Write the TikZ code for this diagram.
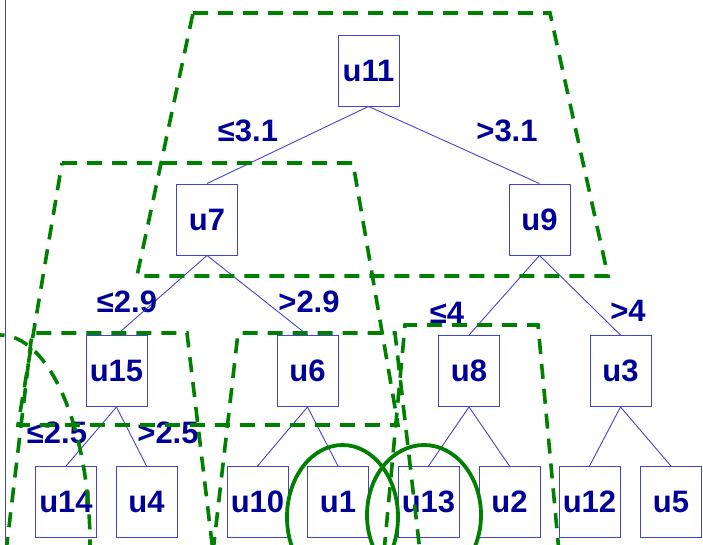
\documentclass[tikz,border=0pt]{standalone}
\usepackage{fontspec}
\setmainfont{Liberation Sans}
\definecolor{labelblue}{HTML}{000099}
\definecolor{lineblue}{HTML}{4444CC}
\definecolor{dkgreen}{HTML}{008000}
\tikzset{
  unit/.style={draw=lineblue, fill=white, line width=0.9pt, minimum width=61pt, minimum height=71pt, inner sep=0pt, text=labelblue, font=\fontsize{31}{36}\selectfont\bfseries},
  cond/.style={text=labelblue, inner sep=0pt, font=\fontsize{31}{36}\selectfont\bfseries},
  branch/.style={draw=lineblue, line width=0.9pt},
  region/.style={draw=dkgreen, line width=3.6pt, dash pattern=on 15pt off 10pt},
  cluster/.style={draw=dkgreen, line width=3.8pt},
}
\begin{document}
\begin{tikzpicture}[x=1pt,y=-1pt]
\useasboundingbox (0,0) rectangle (703,544);
\clip (0,0) rectangle (703,544);
\draw[branch] (5.5,0) -- (5.5,544);

% tree
\node[unit] (u11) at (368.5,70.5) {u11};
\node[unit] (u7) at (207,219.5) {u7};
\node[unit] (u9) at (539.5,219.5) {u9};
\node[unit] (u15) at (116.5,371) {u15};
\node[unit] (u6) at (307.5,371) {u6};
\node[unit] (u8) at (469,371) {u8};
\node[unit] (u3) at (620.5,371) {u3};
\node[unit] (u14) at (66,502) {u14};
\node[unit] (u4) at (146.5,502) {u4};
\node[unit] (u10) at (257.5,502) {u10};
\node[unit] (u1) at (338,502) {u1};
\node[unit] (u13) at (428.5,502) {u13};
\node[unit] (u2) at (509.5,502) {u2};
\node[unit] (u12) at (589.5,502) {u12};
\node[unit] (u5) at (671,502) {u5};

\draw[branch] (u11.south) -- (u7.north);
\draw[branch] (u11.south) -- (u9.north);
\draw[branch] (u7.south) -- (u15.north);
\draw[branch] (u7.south) -- (u6.north);
\draw[branch] (u9.south) -- (u8.north);
\draw[branch] (u9.south) -- (u3.north);
\draw[branch] (u15.south) -- (u14.north);
\draw[branch] (u15.south) -- (u4.north);
\draw[branch] (u6.south) -- (u10.north);
\draw[branch] (u6.south) -- (u1.north);
\draw[branch] (u8.south) -- (u13.north);
\draw[branch] (u8.south) -- (u2.north);
\draw[branch] (u3.south) -- (u12.north);
\draw[branch] (u3.south) -- (u5.north);

\node[cond] (c11l) at (248,131) {≤3.1};
\node[cond] (c11r) at (507,131) {>3.1};
\node[cond] (c7l) at (127,302) {≤2.9};
\node[cond] (c7r) at (309,302) {>2.9};
\node[cond] (c15l) at (57,433) {≤2.5};
\node[cond] (c15r) at (168,433) {>2.5};
\node[cond] (c9l) at (447,313) {≤4};
\node[cond] (c9r) at (628,311) {>4};

% subtree regions
\draw[region] (193,13) -- (550,13) -- (608,276) -- (137,276) -- cycle;
\draw[region] (62,163) -- (353,163) -- (398,425) -- (18,425) -- cycle;
\draw[region] (6,552) -- (32,333) -- (187,333) -- (213,552);
\draw[region] (213,552) -- (238,333) -- (395,333) -- (420,552);
\draw[region] (384,552) -- (405,325) -- (538,325) -- (559,552);
\draw[region] (0,545) ellipse (90 and 210);

% marked units
\draw[cluster] (342.5,517) ellipse (55.5 and 72);
\draw[cluster] (424,515) ellipse (57 and 70);
\end{tikzpicture}
\end{document}
